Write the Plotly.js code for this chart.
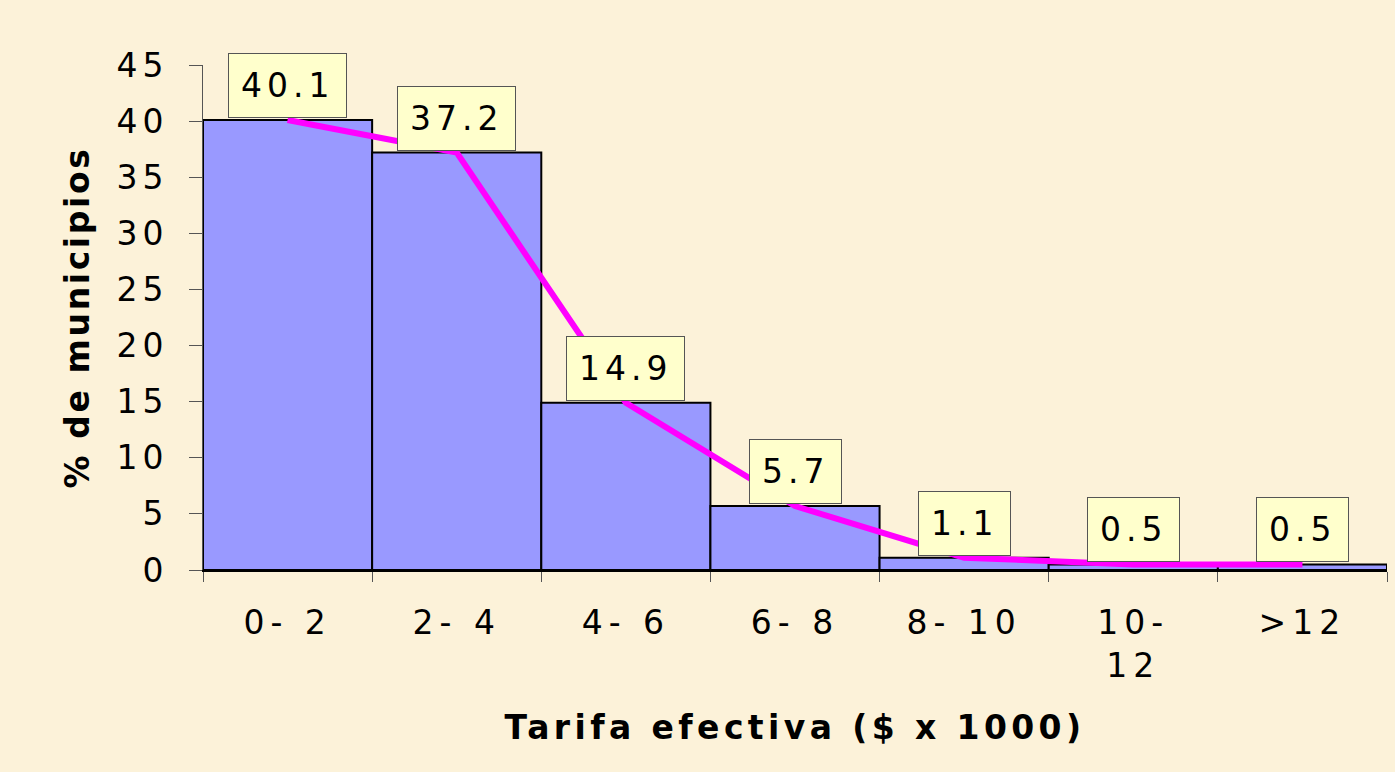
<!DOCTYPE html>
<html>
<head>
<meta charset="utf-8">
<script src="https://cdn.plot.ly/plotly-3.0.1.min.js"></script>
<style>
  html, body { margin: 0; padding: 0; background: #FCF2D9; }
  #chart { width: 1395px; height: 772px; }
  .xtick text { letter-spacing: 6px; }
  .ytick text { letter-spacing: 5px; }
  text.annotation-text { letter-spacing: 5px; }
  text.xtitle { letter-spacing: 4.4px; }
  text.ytitle { letter-spacing: 2.6px; }
</style>
</head>
<body>
<div id="chart"></div>
<script>
// Data
const categories = ['0-2', '2-4', '4-6', '6-8', '8-10', '10-12', '>12'];
const tickLabels = ['0- 2', '2- 4', '4- 6', '6- 8', '8- 10', '10-<br>12', '>12'];
const percentMunicipios = [40.1, 37.2, 14.9, 5.7, 1.1, 0.5, 0.5];
const yTicks = [0, 5, 10, 15, 20, 25, 30, 35, 40, 45];

const FONT = 'DejaVu Sans, Verdana, sans-serif';

const bars = {
  type: 'bar',
  x: categories,
  y: percentMunicipios,
  marker: { color: '#9999FF', line: { color: '#000000', width: 2 } },
  hoverinfo: 'skip',
  showlegend: false
};

const line = {
  type: 'scatter',
  mode: 'lines',
  x: categories,
  y: percentMunicipios,
  line: { color: '#FF00FF', width: 6 },
  hoverinfo: 'skip',
  showlegend: false
};

const annotations = categories.map((c, i) => ({
  x: c,
  y: percentMunicipios[i],
  xref: 'x',
  yref: 'y',
  text: percentMunicipios[i].toFixed(1),
  showarrow: false,
  xanchor: 'center',
  yanchor: 'bottom',
  yshift: 2,
  font: { family: FONT, size: 33, color: '#000000' },
  bgcolor: '#FFFFCC',
  bordercolor: '#555555',
  borderwidth: 1,
  borderpad: 12
}));

const layout = {
  width: 1395,
  height: 772,
  margin: { l: 203, r: 8, t: 65, b: 202 },
  paper_bgcolor: '#FCF2D9',
  plot_bgcolor: 'rgba(0,0,0,0)',
  bargap: 0,
  font: { family: FONT, color: '#000000' },
  xaxis: {
    type: 'category',
    tickvals: categories,
    ticktext: tickLabels,
    range: [-0.5, 6.5],
    tickson: 'boundaries',
    ticks: 'outside',
    ticklen: 10,
    tickwidth: 1,
    tickcolor: '#555555',
    ticklabelstandoff: 22,
    tickfont: { family: FONT, size: 33, color: '#000000' },
    showgrid: false,
    zeroline: false,
    showline: true,
    linecolor: '#000000',
    linewidth: 2,
    automargin: false,
    title: {
      text: 'Tarifa efectiva ($ x 1000)',
      font: { family: FONT, size: 33, color: '#000000', weight: 'bold' },
      standoff: 32
    }
  },
  yaxis: {
    range: [0, 45],
    tickvals: yTicks,
    ticktext: yTicks.map(String),
    ticks: 'outside',
    ticklen: 13,
    tickwidth: 1,
    tickcolor: '#555555',
    ticklabelstandoff: 14,
    tickfont: { family: FONT, size: 33, color: '#000000' },
    showgrid: false,
    zeroline: false,
    showline: true,
    linecolor: '#555555',
    linewidth: 1,
    automargin: false,
    title: {
      text: '% de municipios',
      font: { family: FONT, size: 33, color: '#000000', weight: 'bold' },
      standoff: 16
    }
  },
  annotations: annotations
};

Plotly.newPlot('chart', [bars, line], layout, { displayModeBar: false, staticPlot: true });
</script>
</body>
</html>
